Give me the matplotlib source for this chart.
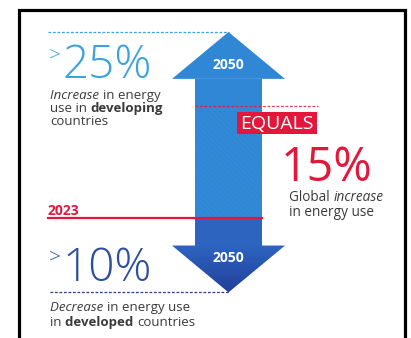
import matplotlib

matplotlib.use("Agg")

import matplotlib.pyplot as plt
import numpy as np
from matplotlib.colors import LinearSegmentedColormap
from matplotlib.patches import Polygon, Rectangle

# change in energy use between the two years, in percent
developing_change = 25
developed_change = -10
global_change = 15
years = [2023, 2050]

BLUE_LIGHT = "#3aa3de"
BLUE_UP = "#2f87d6"
BLUE_HATCH = "#3a8fd9"
BLUE_MID = "#2d64c0"
BLUE_TIP = "#22409c"
BLUE_DARK = "#2c4e9e"
NAVY = "#2b3f7a"
RED = "#e3173c"
GREY = "#3a3a3a"

plt.rcParams["font.family"] = ["Open Sans", "DejaVu Sans"]
plt.rcParams["hatch.linewidth"] = 0.35

W, H = 411, 338
PX_PER_PCT = 7.44
BASE_PX = 218  # pixel row of the 2023 line


def pct(ypx):
    return (BASE_PX - ypx) / PX_PER_PCT


fig = plt.figure(figsize=(W / 100, H / 100), dpi=100)
ax = fig.add_axes([0, 0, 1, 1])
renderer = fig.canvas.get_renderer()

# arrow geometry (x in pixels)
shaft_l, shaft_r = 195, 262
head_l, head_r = 172, 285
cx = (shaft_l + shaft_r) / 2
head_len = 6.3

up_base = developing_change - head_len
down_base = developed_change + head_len

ax.add_patch(Polygon([(head_l, up_base), (cx, developing_change), (head_r, up_base)],
                     closed=True, fc=BLUE_UP, ec="none", zorder=2))
ax.add_patch(Rectangle((shaft_l, 0), shaft_r - shaft_l, up_base + 0.05,
                       fc=BLUE_UP, ec="none", zorder=2))
ax.add_patch(Rectangle((shaft_l, 0), shaft_r - shaft_l, global_change,
                       fc="none", ec=BLUE_HATCH, hatch="\\\\\\\\\\\\", lw=0, zorder=2))
ax.add_patch(Rectangle((shaft_l, down_base - 0.05), shaft_r - shaft_l, -down_base + 0.05,
                       fc=BLUE_MID, ec="none", zorder=2))

# down head with a vertical gradient
down_head = Polygon([(head_l, down_base), (cx, developed_change), (head_r, down_base)],
                    closed=True, fc="none", ec="none")
ax.add_patch(down_head)
grad = np.linspace(0, 1, 64).reshape(-1, 1)
cmap = LinearSegmentedColormap.from_list("down", [BLUE_MID, BLUE_TIP])
img = ax.imshow(grad, cmap=cmap, aspect="auto", interpolation="bilinear",
                extent=(head_l, head_r, developed_change, down_base), origin="upper", zorder=2)
img.set_clip_path(down_head)
ax.set_xlim(0, W)
ax.set_ylim(pct(H), pct(0))
ax.axis("off")

# guide lines
ax.plot([48, cx], [developing_change] * 2, color=BLUE_LIGHT, lw=0.9, ls=(0, (2.2, 1.4)), zorder=3)
ax.plot([50, cx], [developed_change] * 2, color=NAVY, lw=0.9, ls=(0, (2.2, 1.4)), zorder=3)
ax.plot([shaft_l, 318], [global_change] * 2, color=RED, lw=0.9, ls=(0, (2.2, 1.4)),
        alpha=0.85, zorder=3)
ax.plot([48, shaft_r], [0, 0], color=RED, lw=1.6, zorder=3)

# year labels
ax.text(48, pct(215), str(years[0]), color=RED, fontsize=10, weight="bold", va="baseline")
ax.text(cx, pct(65), str(years[1]), color="white", fontsize=10, weight="bold",
        ha="center", va="center", zorder=4)
ax.text(cx, pct(257.5), str(years[1]), color="white", fontsize=10, weight="bold",
        ha="center", va="center", zorder=4)


def text_width(s, **kw):
    t = ax.text(0, 0, s + "|", **kw)
    w = t.get_window_extent(renderer).width
    t.remove()
    t = ax.text(0, 0, "|", **kw)
    w -= t.get_window_extent(renderer).width
    t.remove()
    return w


def runs(x, ypx, parts, size=9.5, color=GREY):
    # spaces go at the end of a run so the next run starts on a glyph
    for s, style, weight in parts:
        kw = dict(fontsize=size, style=style, weight=weight, color=color)
        ax.text(x, pct(ypx), s, va="baseline", **kw)
        x += text_width(s, **kw)


def big_value(x, ypx, value, color, size=33):
    ax.text(x, pct(ypx - 18), ">", fontsize=15, weight="light", color=color, va="baseline")
    ax.text(x + 13, pct(ypx), f"{abs(value)}%", fontsize=size, weight="light",
            color=color, va="baseline")


big_value(49, 78.5, developing_change, BLUE_LIGHT)
runs(50, 99, [("Increase ", "italic", "normal"), ("in energy", "normal", "normal")])
runs(50, 112, [("use in ", "normal", "normal"), ("developing", "normal", "bold")])
runs(50, 125, [("countries", "normal", "normal")])

big_value(49, 281, developed_change, BLUE_DARK)
runs(50, 311, [("Decrease ", "italic", "normal"), ("in energy use", "normal", "normal")])
runs(50, 326, [("in ", "normal", "normal"), ("developed ", "normal", "bold"),
               ("countries", "normal", "normal")])

# equals box and global figure
ax.add_patch(Rectangle((237, pct(134)), 80, pct(112) - pct(134), fc=RED, ec="none", zorder=4))
ax.text(277, pct(123.5), "EQUALS", color="white", fontsize=14, ha="center", va="center", zorder=5)
ax.text(281, pct(181), f"{global_change}%", color=RED, fontsize=33.5, va="baseline")
runs(289, 201, [("Global ", "normal", "normal"), ("increase", "italic", "normal")], size=9.8)
runs(289, 216, [("in energy use", "normal", "normal")], size=9.8)

# frame
ax.plot([19, 19, 405, 405], [pct(345), pct(9.5), pct(9.5), pct(345)], color="black",
        lw=2.3, solid_joinstyle="miter", zorder=6, clip_on=False)

fig.savefig("out.png", dpi=100)
